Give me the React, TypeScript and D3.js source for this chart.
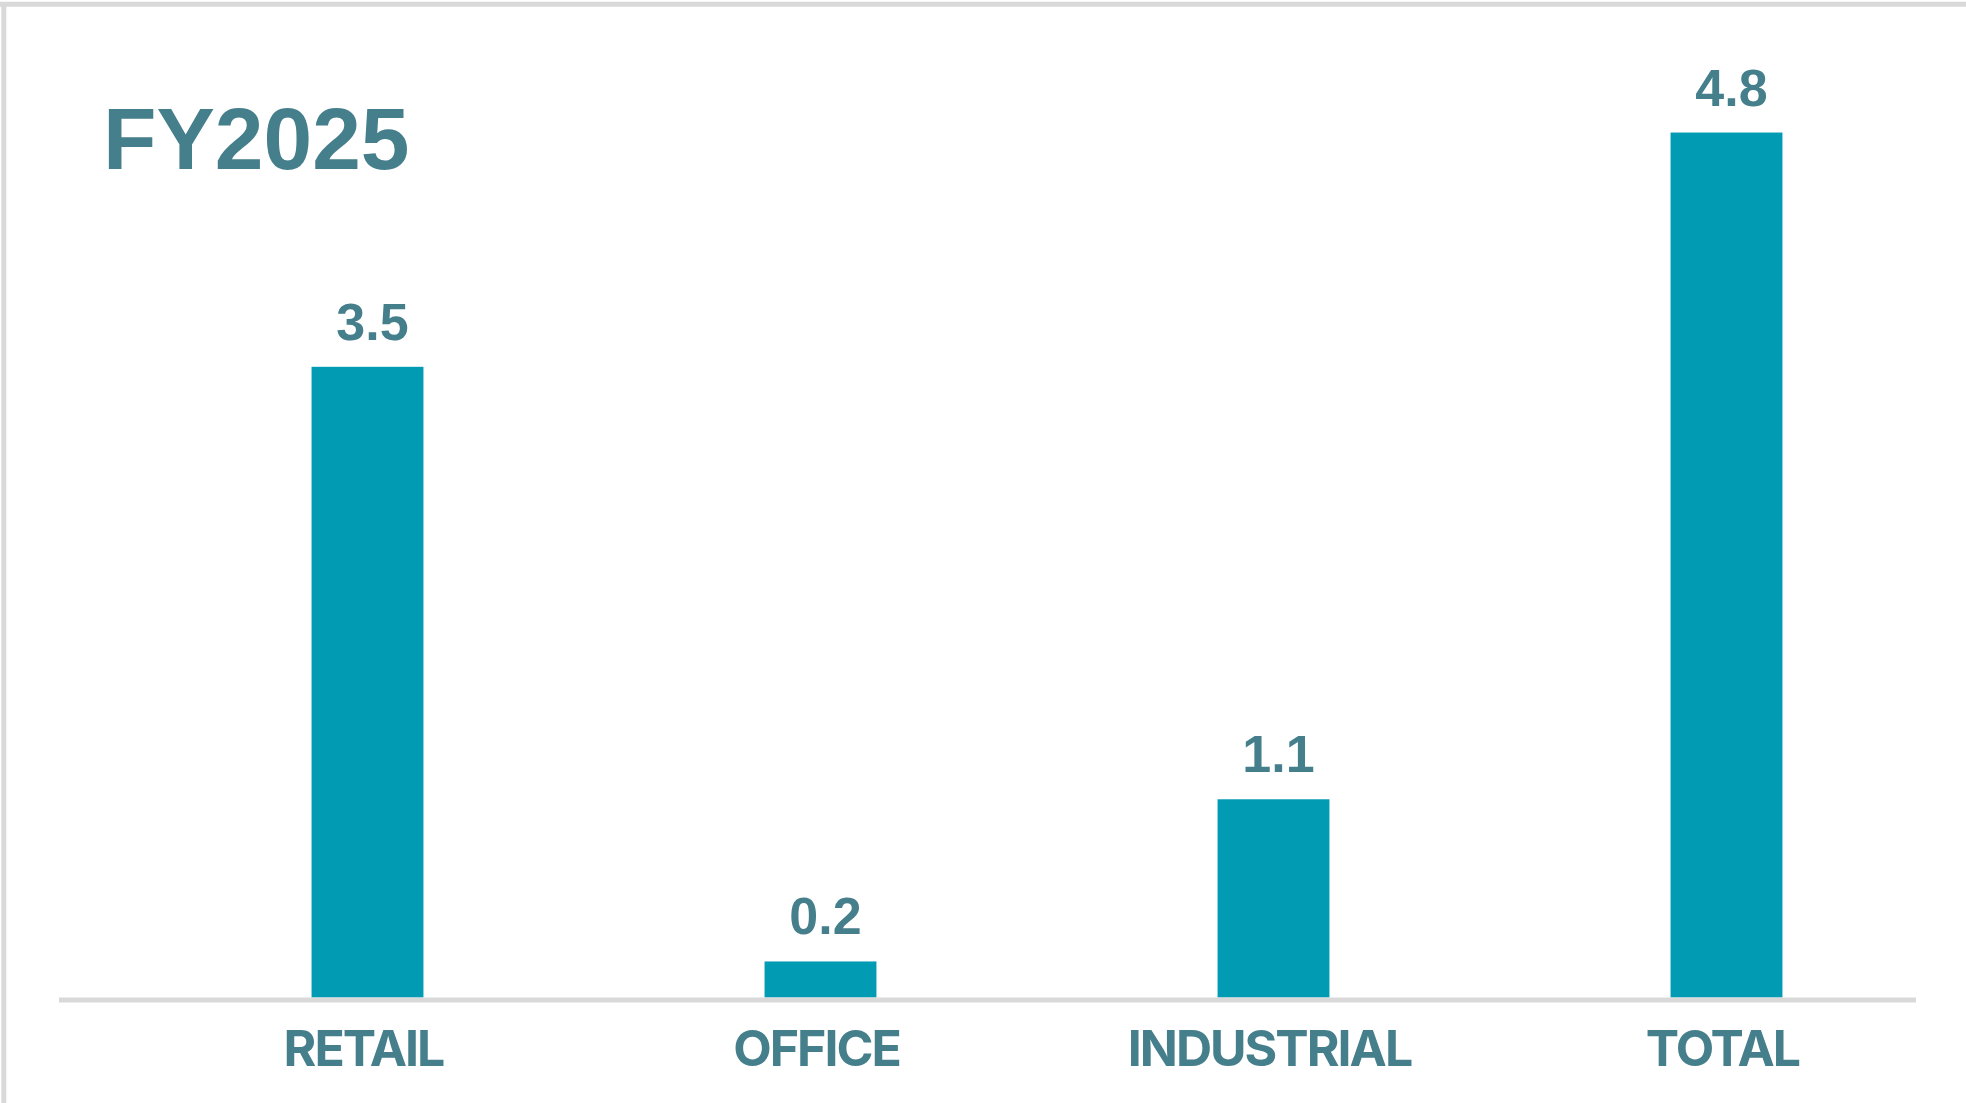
import React from "react";
import * as d3 from "d3";

const categories = ["RETAIL", "OFFICE", "INDUSTRIAL", "TOTAL"];
const values = [3.5, 0.2, 1.1, 4.8];
const valueLabels = ["3.5", "0.2", "1.1", "4.8"];
const title = "FY2025";

const W = 1966;
const H = 1103;
const TEXT = "#467f8c";
const BAR = "#019cb3";
const GRID = "#d9d9d9";

export default function App() {
  const baseY = 997.5;
  const x = d3
    .scaleBand<string>()
    .domain(categories)
    .range([141, 1953])
    .paddingInner(0.753)
    .paddingOuter(0.753 / 2);
  const y = d3.scaleLinear().domain([0, 5]).range([baseY, baseY - 901]);

  return (
    <svg
      width={W}
      height={H}
      style={{ position: "absolute", left: 0, top: 0, background: "#fff" }}
    >
      <rect x={0} y={0} width={W} height={H} fill="#fff" />
      {/* frame */}
      <line x1={0} x2={W} y1={4.2} y2={4.2} stroke={GRID} strokeWidth={5} />
      <line x1={3.8} x2={3.8} y1={2} y2={H} stroke={GRID} strokeWidth={5} />

      <text
        x={103}
        y={169}
        fill={TEXT}
        fontFamily="Liberation Sans, Arial, sans-serif"
        fontWeight={700}
        fontSize={87.5}
      >
        {title}
      </text>

      {categories.map((c, i) => {
        const bx = x(c)!;
        const by = y(values[i]);
        return (
          <g key={c}>
            <rect
              x={bx}
              y={by}
              width={x.bandwidth()}
              height={baseY - by}
              fill={BAR}
            />
            <text
              x={bx + x.bandwidth() / 2 + 5}
              y={by - 27}
              textAnchor="middle"
              fill={TEXT}
              fontFamily="Liberation Sans, Arial, sans-serif"
              fontWeight={700}
              fontSize={52}
            >
              {valueLabels[i]}
            </text>
            <text
              x={bx + x.bandwidth() / 2 - 4}
              y={1066}
              textAnchor="middle"
              fill={TEXT}
              fontFamily="Inter, sans-serif"
              fontWeight={700}
              fontSize={50}
              letterSpacing={-2}
            >
              {c}
            </text>
          </g>
        );
      })}

      <line
        x1={59}
        x2={1916}
        y1={baseY + 2.5}
        y2={baseY + 2.5}
        stroke={GRID}
        strokeWidth={5}
      />
    </svg>
  );
}
